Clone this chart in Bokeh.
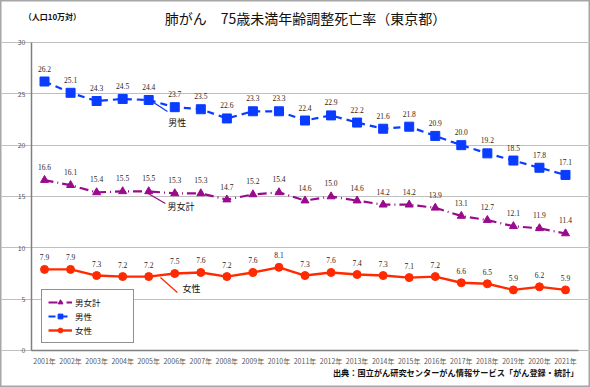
from bokeh.plotting import figure
from bokeh.models import (ColumnDataSource, LabelSet, Label, Legend, LegendItem,
                          Range1d, FixedTicker)
from bokeh.embed import file_html
from bokeh.resources import INLINE

years = list(range(2001, 2022))
tick_labels = [f"{y}年" for y in years]
male = [26.2, 25.1, 24.3, 24.5, 24.4, 23.7, 23.5, 22.6, 23.3, 23.3, 22.4, 22.9,
        22.2, 21.6, 21.8, 20.9, 20.0, 19.2, 18.5, 17.8, 17.1]
total = [16.6, 16.1, 15.4, 15.5, 15.5, 15.3, 15.3, 14.7, 15.2, 15.4, 14.6, 15.0,
         14.6, 14.2, 14.2, 13.9, 13.1, 12.7, 12.1, 11.9, 11.4]
female = [7.9, 7.9, 7.3, 7.2, 7.2, 7.5, 7.6, 7.2, 7.6, 8.1, 7.3, 7.6, 7.4, 7.3,
          7.1, 7.2, 6.6, 6.5, 5.9, 6.2, 5.9]
y_ticks = [0, 5, 10, 15, 20, 25, 30]

title_text = "肺がん　75歳未満年齢調整死亡率（東京都）"
unit_text = "（人口10万対）"
source_text = "出典：国立がん研究センターがん情報サービス「がん登録・統計」"

FONT = "Noto Sans CJK JP"
BLUE = "#0a3cff"
PURPLE = "#990a8c"
RED = "#ff2a00"

src = ColumnDataSource(dict(
    x=years, male=male, total=total, female=female,
    male_t=[f"{v:.1f}" for v in male],
    total_t=[f"{v:.1f}" for v in total],
    female_t=[f"{v:.1f}" for v in female],
))

# frame covers the whole canvas; axes are pinned to the plotting band
p = figure(width=590, height=387, output_backend="svg", toolbar_location=None,
           x_range=Range1d(1999.31, 2021.96), y_range=Range1d(-3.604, 34.09),
           min_border_left=0, min_border_right=0, min_border_top=0,
           min_border_bottom=0)
p.outline_line_color = "#a6a6a6"
p.outline_line_width = 2
p.background_fill_color = "white"
p.border_fill_color = "white"

# axes
p.xaxis.ticker = FixedTicker(ticks=years)
p.xaxis.major_label_overrides = {y: t for y, t in zip(years, tick_labels)}
p.xaxis.fixed_location = 0
p.xaxis.bounds = (2000.5, 2021.5)
p.yaxis.ticker = FixedTicker(ticks=y_ticks)
p.yaxis.bounds = (0, 30)
p.yaxis.fixed_location = 2000.5
for ax in (p.xaxis[0], p.yaxis[0]):
    ax.major_tick_line_color = None
    ax.minor_tick_line_color = None
    ax.major_tick_out = 0
    ax.major_tick_in = 0
    ax.major_label_text_font = FONT
    ax.major_label_text_font_size = "7px"
    ax.major_label_text_color = "#595959"
    ax.axis_line_color = "#7f7f7f"
    ax.axis_line_width = 1.5
p.xaxis.major_label_standoff = 6
p.yaxis.major_label_standoff = 6
p.xgrid.grid_line_color = None
p.ygrid.grid_line_color = "#bfbfbf"
p.ygrid.grid_line_width = 1.2
p.ygrid.bounds = (2000.5, 2021.5)

# series
l_total = p.line("x", "total", source=src, color=PURPLE, line_width=2.2,
                 line_dash="9 4 1 4")
s_total = p.scatter("x", "total", source=src, marker="triangle", size=8,
                    color=PURPLE)
l_male = p.line("x", "male", source=src, color=BLUE, line_width=2.2,
                line_dash="7 5")
s_male = p.scatter("x", "male", source=src, marker="square", size=9, color=BLUE)
l_female = p.line("x", "female", source=src, color=RED, line_width=2.4)
s_female = p.scatter("x", "female", source=src, marker="circle", size=8,
                     color=RED)

for col, off in (("male_t", 13), ("total_t", 13), ("female_t", 12)):
    ls = LabelSet(x="x", y=col.replace("_t", ""), text=col, source=src,
                  y_offset=off, text_align="center", text_baseline="middle",
                  text_font=FONT, text_font_size="7.5px", text_color="#262626")
    p.add_layout(ls)

# series call-outs (leader lines)
p.segment(x0=[2005.07], y0=[24.35], x1=[2005.72], y1=[23.28], color=BLUE,
          line_width=1.3)
p.segment(x0=[2004.91], y0=[15.39], x1=[2005.64], y1=[14.32], color=PURPLE,
          line_width=1.3)
p.segment(x0=[2005.45], y0=[7.11], x1=[2006.1], y1=[5.65], color=RED,
          line_width=1.3)
for txt, x, y in (("男性", 2005.75, 22.2), ("男女計", 2005.72, 14.03),
                  ("女性", 2006.3, 6.04)):
    p.add_layout(Label(x=x, y=y, text=txt, text_font=FONT,
                       text_font_size="9px", text_baseline="middle",
                       text_align="left", text_color="#111111"))

# title & notes
p.add_layout(Label(x=2011.02, y=32.43, text=title_text, text_font=FONT,
                   text_font_size="14px", text_align="center",
                   text_baseline="middle", text_color="#111111"))
p.add_layout(Label(x=2000.2, y=32.53, text=unit_text, text_font=FONT,
                   text_font_size="8px", text_align="left",
                   text_baseline="middle", text_color="#111111",
                   text_font_style="bold"))
p.add_layout(Label(x=2021.5, y=-2.14, text=source_text, text_font=FONT,
                   text_font_size="8.2px", text_align="right",
                   text_baseline="middle", text_color="#111111",
                   text_font_style="bold"))

legend = Legend(items=[
    LegendItem(label="男女計", renderers=[l_total, s_total]),
    LegendItem(label="男性", renderers=[l_male, s_male]),
    LegendItem(label="女性", renderers=[l_female, s_female]),
], location=(41, 44))
legend.border_line_color = "#222222"
legend.border_line_width = 1.2
legend.padding = 6
legend.spacing = 2
legend.glyph_height = 12
legend.label_height = 12
legend.glyph_width = 24
legend.label_width = 52
legend.label_standoff = 3
legend.label_text_font = FONT
legend.label_text_font_size = "8.5px"
legend.label_text_color = "#111111"
legend.background_fill_alpha = 1
p.add_layout(legend)

open("out.html", "w").write(file_html(p, INLINE))
